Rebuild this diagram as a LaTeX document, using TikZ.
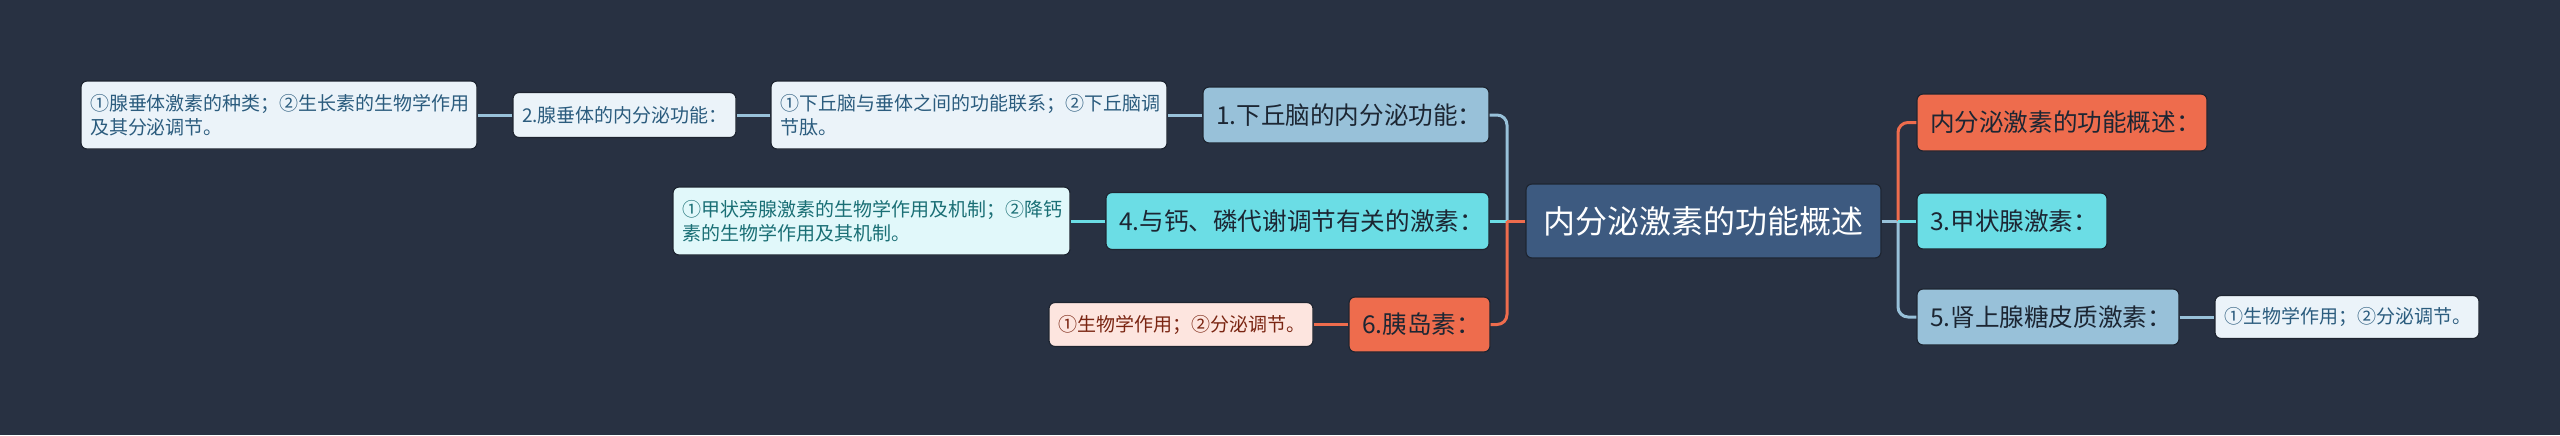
\documentclass[tikz,border=0pt]{standalone}
\usepackage{fontspec}
\setmainfont{Noto Sans CJK SC}
\definecolor{bg}{HTML}{283142}
\definecolor{bgline}{HTML}{1E2531}
\definecolor{cfill}{HTML}{3D5A80}
\definecolor{blu}{HTML}{98C1D9}
\definecolor{cya}{HTML}{6BDDE5}
\definecolor{cor}{HTML}{EE6C4D}
\definecolor{darktext}{HTML}{1C2633}
\definecolor{lblufill}{HTML}{EBF3F9}
\definecolor{lblutext}{HTML}{2B5C7E}
\definecolor{lcyafill}{HTML}{E1F8FA}
\definecolor{lcyatext}{HTML}{1A6F75}
\definecolor{lcorfill}{HTML}{FDE5DF}
\definecolor{lcortext}{HTML}{7A2512}
\begin{document}
\begin{tikzpicture}[x=0.5pt,y=-0.5pt,
  base/.style={rounded corners=3pt, draw=bgline, line width=0.6pt, inner ysep=0pt, anchor=center},
  cbox/.style={base, fill=cfill, text=white, align=center, font=\fontsize{16pt}{19pt}\selectfont},
  pbox/.style={base, inner xsep=6.5pt, align=left, text=darktext, font=\fontsize{12.3pt}{15pt}\selectfont},
  lbox/.style={base, inner xsep=4.5pt, align=left, font=\fontsize{9.5pt}{12pt}\selectfont},
  pblu/.style={pbox, fill=blu},
  pcya/.style={pbox, fill=cya},
  pcor/.style={pbox, fill=cor},
  lblu/.style={lbox, fill=lblufill, text=lblutext},
  lcya/.style={lbox, fill=lcyafill, text=lcyatext},
  lcor/.style={lbox, fill=lcorfill, text=lcortext},
  conn/.style={line width=1.5pt},
  bluline/.style={conn, draw=blu},
  cyaline/.style={conn, draw=cya},
  corline/.style={conn, draw=cor}]
\fill[bg] (0,0) rectangle (2560,435);
\useasboundingbox (0,0) rectangle (2560,435);

% central
\node[cbox, minimum width=177.5pt, minimum height=37pt] (c) at (1703.5,221) {内分泌激素的功能概述};

% left primary
\node[pblu, text width=130pt, minimum height=28pt] (b1) at (1346,115) {1.下丘脑的内分泌功能：};
\node[pcya, text width=178.5pt, minimum height=28.5pt] (b4) at (1297.5,221) {4.与钙、磷代谢调节有关的激素：};
\node[pcor, text width=57.5pt, minimum height=27.5pt] (b6) at (1419.5,324.5) {6.胰岛素：};

% right primary
\node[pcor, text width=132pt, minimum height=28.5pt] (r1) at (2062,122.5) {内分泌激素的功能概述：};
\node[pcya, text width=82pt, minimum height=28pt] (r3) at (2012,221) {3.甲状腺激素：};
\node[pblu, text width=118pt, minimum height=28pt] (r5) at (2048,317) {5.肾上腺糖皮质激素：};

% leaves
\node[lblu, text width=189pt, minimum height=34pt] (l1) at (969,115) {①下丘脑与垂体之间的功能联系；②下丘脑调\\节肽。};
\node[lblu, text width=102.5pt, minimum height=22.5pt] (b2) at (624.5,115) {2.腺垂体的内分泌功能：};
\node[lblu, text width=189pt, minimum height=34pt] (l2) at (279,115) {①腺垂体激素的种类；②生长素的生物学作用\\及其分泌调节。};
\node[lcya, text width=189.5pt, minimum height=34pt] (l4) at (871.5,221) {①甲状旁腺激素的生物学作用及机制；②降钙\\素的生物学作用及其机制。};
\node[lcor, text width=123pt, minimum height=22pt] (l6) at (1181,324.5) {①生物学作用；②分泌调节。};
\node[lblu, text width=123pt, minimum height=21.5pt] (l5) at (2347,317) {①生物学作用；②分泌调节。};

% junctions
\coordinate (jl) at (1507,221);
\coordinate (jr) at (1898,221);

% left connectors
\draw[bluline, rounded corners=5pt] (jl) |- (b1.east);
\draw[cyaline] (jl) -- (b4.east);
\draw[corline, rounded corners=5pt] (jl) |- (b6.east);
\draw[corline] (c.west) -- (jl);

% right connectors
\draw[bluline] (c.east) -- (jr);
\draw[corline, rounded corners=5pt] (jr) |- (r1.west);
\draw[bluline, rounded corners=5pt] (jr) |- (r5.west);
\draw[cyaline] (jr) -- (r3.west);

% leaf connectors
\draw[bluline] (b1.west) -- (l1.east);
\draw[bluline] (l1.west) -- (b2.east);
\draw[bluline] (b2.west) -- (l2.east);
\draw[cyaline] (b4.west) -- (l4.east);
\draw[corline] (b6.west) -- (l6.east);
\draw[bluline] (r5.east) -- (l5.west);
\end{tikzpicture}
\end{document}
